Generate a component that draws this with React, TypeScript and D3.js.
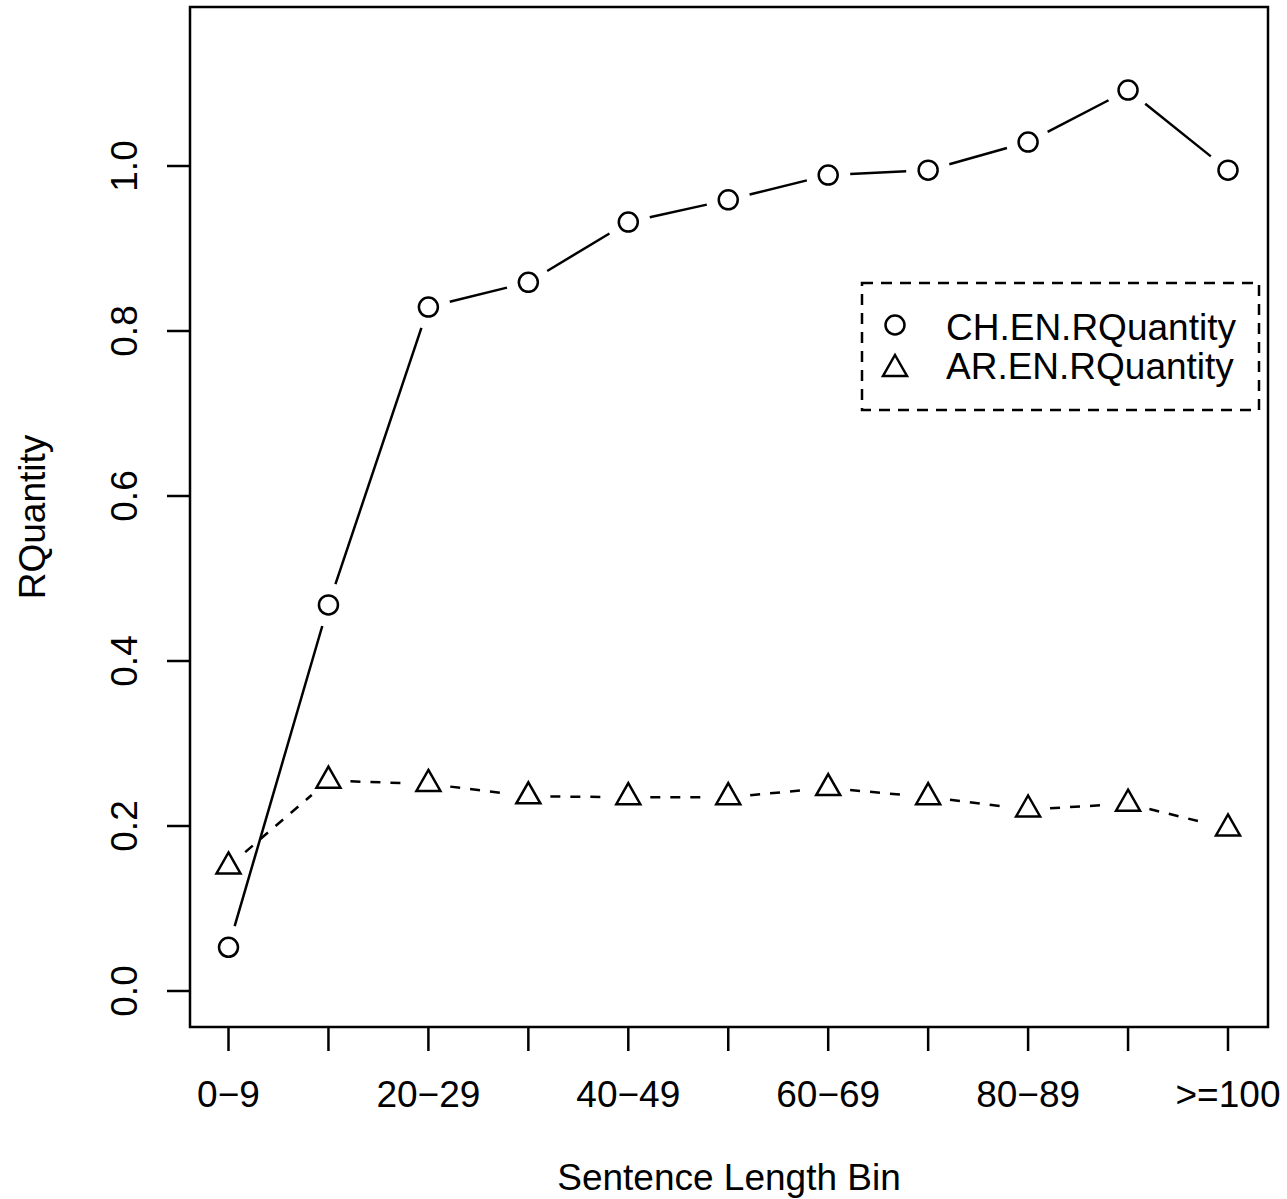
import React from "react";
import * as d3 from "d3";

const categories = ["0-9", "10-19", "20-29", "30-39", "40-49", "50-59", "60-69", "70-79", "80-89", "90-99", ">=100"];
const tickLabels = ["0\u22129", "", "20\u221229", "", "40\u221249", "", "60\u221269", "", "80\u221289", "", ">=100"];
const chValues = [0.053, 0.468, 0.829, 0.859, 0.932, 0.959, 0.989, 0.995, 1.029, 1.092, 0.995];
const arValues = [0.151, 0.255, 0.251, 0.236, 0.235, 0.235, 0.246, 0.235, 0.220, 0.227, 0.197];
const yTicks = [0, 0.2, 0.4, 0.6, 0.8, 1.0];
const seriesNames = ["CH.EN.RQuantity", "AR.EN.RQuantity"];

const W = 1287, H = 1199;
const box = { left: 190, right: 1268, top: 7, bottom: 1027 };
const FONT = "'Liberation Sans', Arial, sans-serif";
const FS = 37;

const x = d3.scalePoint<string>().domain(categories).range([228.5, 1228]);
const y = d3.scaleLinear().domain([0, 1]).range([991, 166]);

function gappedSegments(vals: number[], gap: number) {
  const pts = vals.map((v, i) => [x(categories[i]) as number, y(v)]);
  const segs: [number, number, number, number][] = [];
  for (let i = 0; i < pts.length - 1; i++) {
    const [x0, y0] = pts[i];
    const [x1, y1] = pts[i + 1];
    const dx = x1 - x0, dy = y1 - y0;
    const len = Math.hypot(dx, dy);
    if (len <= 2 * gap) continue;
    const ux = dx / len, uy = dy / len;
    segs.push([x0 + ux * gap, y0 + uy * gap, x1 - ux * gap, y1 - uy * gap]);
  }
  return segs;
}

const triPath = (cx: number, cy: number) => {
  const w = 24, h = 21;
  return `M${cx},${cy - (h * 2) / 3}L${cx + w / 2},${cy + h / 3}L${cx - w / 2},${cy + h / 3}Z`;
};

export default function App() {
  const chSegs = gappedSegments(chValues, 22);
  const arSegs = gappedSegments(arValues, 22);
  const sw = 2.5;
  return (
    <svg width={W} height={H} style={{ position: "absolute", left: 0, top: 0, background: "#fff" }} fontFamily={FONT}>
      <rect x={0} y={0} width={W} height={H} fill="#fff" />
      {/* plot box */}
      <rect x={box.left} y={box.top} width={box.right - box.left} height={box.bottom - box.top} fill="none" stroke="#000" strokeWidth={sw} />
      {/* y axis */}
      {yTicks.map((t) => (
        <g key={t}>
          <line x1={box.left - 23} x2={box.left} y1={y(t)} y2={y(t)} stroke="#000" strokeWidth={sw} />
          <text transform={`translate(137,${y(t)}) rotate(-90)`} textAnchor="middle" fontSize={FS} fill="#000">
            {t.toFixed(1)}
          </text>
        </g>
      ))}
      <text transform={`translate(45,${(box.top + box.bottom) / 2}) rotate(-90)`} textAnchor="middle" fontSize={FS} fill="#000">
        RQuantity
      </text>
      {/* x axis */}
      {categories.map((c, i) => (
        <g key={c}>
          <line x1={x(c)} x2={x(c)} y1={box.bottom} y2={box.bottom + 24} stroke="#000" strokeWidth={sw} />
          {tickLabels[i] && (
            <text x={x(c)} y={1107} textAnchor="middle" fontSize={FS} fill="#000">
              {tickLabels[i]}
            </text>
          )}
        </g>
      ))}
      <text x={(box.left + box.right) / 2} y={1190} textAnchor="middle" fontSize={FS} fill="#000">
        Sentence Length Bin
      </text>
      {/* CH series */}
      {chSegs.map((s, i) => (
        <line key={"c" + i} x1={s[0]} y1={s[1]} x2={s[2]} y2={s[3]} stroke="#000" strokeWidth={sw} />
      ))}
      {chValues.map((v, i) => (
        <circle key={"cp" + i} cx={x(categories[i])} cy={y(v)} r={9.5} fill="none" stroke="#000" strokeWidth={sw} />
      ))}
      {/* AR series */}
      {arSegs.map((s, i) => (
        <line key={"a" + i} x1={s[0]} y1={s[1]} x2={s[2]} y2={s[3]} stroke="#000" strokeWidth={sw} strokeDasharray="10,10" />
      ))}
      {arValues.map((v, i) => (
        <path key={"ap" + i} d={triPath(x(categories[i]) as number, y(v))} fill="none" stroke="#000" strokeWidth={sw} strokeLinejoin="miter" />
      ))}
      {/* legend */}
      <rect x={862} y={283} width={397} height={127} fill="#fff" stroke="#000" strokeWidth={sw} strokeDasharray="11,8" />
      <circle cx={895} cy={325} r={9.5} fill="none" stroke="#000" strokeWidth={sw} />
      <path d={triPath(895, 369)} fill="none" stroke="#000" strokeWidth={sw} />
      <text x={946} y={327} dominantBaseline="central" fontSize={FS} fill="#000">{seriesNames[0]}</text>
      <text x={946} y={366} dominantBaseline="central" fontSize={FS} fill="#000">{seriesNames[1]}</text>
    </svg>
  );
}
